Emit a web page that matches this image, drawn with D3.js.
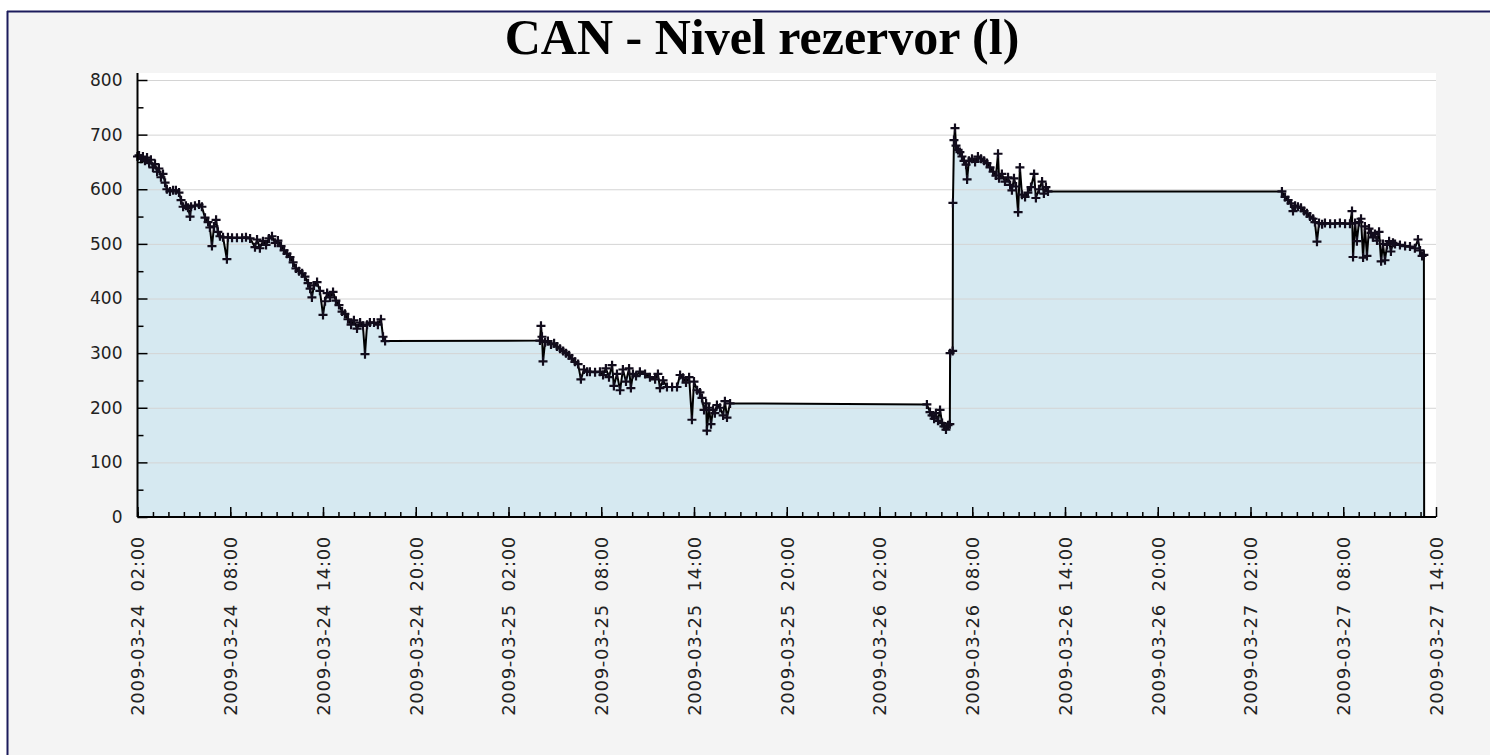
<!doctype html>
<html lang="en">
<head>
<meta charset="utf-8">
<script src="https://d3js.org/d3.v7.min.js"></script>
<style>
  body { margin: 0; background: #fff; }
  .tick text { white-space: pre; }
</style>
</head>
<body>
<div id="chart"></div>
<script>
var chartTitle = "CAN - Nivel rezervor (l)";

// reservoir readings (litres)
var times = [
  // 2009-03-24
  "2009-03-24 02:00","2009-03-24 02:06","2009-03-24 02:14","2009-03-24 02:21","2009-03-24 02:29","2009-03-24 02:37",
  "2009-03-24 02:45","2009-03-24 02:52","2009-03-24 03:00","2009-03-24 03:08","2009-03-24 03:16","2009-03-24 03:23",
  "2009-03-24 03:31","2009-03-24 03:39","2009-03-24 03:47","2009-03-24 03:54","2009-03-24 04:06","2009-03-24 04:18",
  "2009-03-24 04:29","2009-03-24 04:41","2009-03-24 04:49","2009-03-24 04:57","2009-03-24 05:08","2009-03-24 05:16",
  "2009-03-24 05:24","2009-03-24 05:28","2009-03-24 05:43","2009-03-24 05:59","2009-03-24 06:10","2009-03-24 06:22",
  "2009-03-24 06:34","2009-03-24 06:41","2009-03-24 06:49","2009-03-24 06:57","2009-03-24 07:05","2009-03-24 07:12",
  "2009-03-24 07:20","2009-03-24 07:32","2009-03-24 07:47","2009-03-24 07:51","2009-03-24 08:07","2009-03-24 08:26",
  "2009-03-24 08:46","2009-03-24 09:01","2009-03-24 09:17","2009-03-24 09:36","2009-03-24 09:44","2009-03-24 09:55",
  "2009-03-24 10:07","2009-03-24 10:19","2009-03-24 10:30","2009-03-24 10:42","2009-03-24 10:54","2009-03-24 11:05",
  "2009-03-24 11:17","2009-03-24 11:29","2009-03-24 11:40","2009-03-24 11:52","2009-03-24 12:04","2009-03-24 12:15",
  "2009-03-24 12:27","2009-03-24 12:39","2009-03-24 12:50","2009-03-24 13:02","2009-03-24 13:10","2009-03-24 13:17",
  "2009-03-24 13:25","2009-03-24 13:37","2009-03-24 13:48","2009-03-24 14:00","2009-03-24 14:08","2009-03-24 14:16",
  "2009-03-24 14:27","2009-03-24 14:39","2009-03-24 14:50","2009-03-24 15:02","2009-03-24 15:14","2009-03-24 15:25",
  "2009-03-24 15:37","2009-03-24 15:49","2009-03-24 16:00","2009-03-24 16:12","2009-03-24 16:24","2009-03-24 16:35",
  "2009-03-24 16:43","2009-03-24 16:51","2009-03-24 17:02","2009-03-24 17:18","2009-03-24 17:33","2009-03-24 17:45",
  "2009-03-24 17:53","2009-03-24 18:01",
  // 2009-03-25
  "2009-03-25 04:02","2009-03-25 04:06","2009-03-25 04:10","2009-03-25 04:14","2009-03-25 04:22","2009-03-25 04:33",
  "2009-03-25 04:45","2009-03-25 04:57","2009-03-25 05:08","2009-03-25 05:20","2009-03-25 05:32","2009-03-25 05:43",
  "2009-03-25 05:55","2009-03-25 06:06","2009-03-25 06:18","2009-03-25 06:30","2009-03-25 06:41","2009-03-25 06:53",
  "2009-03-25 07:05","2009-03-25 07:16","2009-03-25 07:36","2009-03-25 07:55","2009-03-25 08:07","2009-03-25 08:18",
  "2009-03-25 08:30","2009-03-25 08:42","2009-03-25 08:49","2009-03-25 09:01","2009-03-25 09:13","2009-03-25 09:24",
  "2009-03-25 09:36","2009-03-25 09:48","2009-03-25 09:55","2009-03-25 10:03","2009-03-25 10:15","2009-03-25 10:30",
  "2009-03-25 10:50","2009-03-25 11:09","2009-03-25 11:29","2009-03-25 11:40","2009-03-25 11:48","2009-03-25 12:00",
  "2009-03-25 12:15","2009-03-25 12:35","2009-03-25 12:54","2009-03-25 13:06","2009-03-25 13:17","2009-03-25 13:29",
  "2009-03-25 13:41","2009-03-25 13:52","2009-03-25 14:00","2009-03-25 14:12","2009-03-25 14:23","2009-03-25 14:31",
  "2009-03-25 14:39","2009-03-25 14:47","2009-03-25 14:50","2009-03-25 14:58","2009-03-25 15:06","2009-03-25 15:14",
  "2009-03-25 15:21","2009-03-25 15:29","2009-03-25 15:41","2009-03-25 15:53","2009-03-25 16:00","2009-03-25 16:08",
  "2009-03-25 16:20",
  // 2009-03-26
  "2009-03-26 05:04","2009-03-26 05:16","2009-03-26 05:24","2009-03-26 05:32","2009-03-26 05:39","2009-03-26 05:47",
  "2009-03-26 05:55","2009-03-26 06:03","2009-03-26 06:10","2009-03-26 06:18","2009-03-26 06:26","2009-03-26 06:33",
  "2009-03-26 06:34","2009-03-26 06:44","2009-03-26 06:45","2009-03-26 06:49","2009-03-26 06:53","2009-03-26 06:57",
  "2009-03-26 07:05","2009-03-26 07:12",
  "2009-03-26 07:20","2009-03-26 07:28","2009-03-26 07:36","2009-03-26 07:40","2009-03-26 07:47","2009-03-26 07:59",
  "2009-03-26 08:11","2009-03-26 08:22","2009-03-26 08:34","2009-03-26 08:46","2009-03-26 08:57","2009-03-26 09:09",
  "2009-03-26 09:21","2009-03-26 09:32","2009-03-26 09:40","2009-03-26 09:44","2009-03-26 09:55","2009-03-26 10:07",
  "2009-03-26 10:19","2009-03-26 10:27","2009-03-26 10:34","2009-03-26 10:42","2009-03-26 10:50","2009-03-26 10:58",
  "2009-03-26 11:05","2009-03-26 11:13","2009-03-26 11:25","2009-03-26 11:36","2009-03-26 11:48","2009-03-26 12:00",
  "2009-03-26 12:07","2009-03-26 12:19","2009-03-26 12:31","2009-03-26 12:38","2009-03-26 12:46","2009-03-26 12:54",
  // 2009-03-27
  "2009-03-27 04:02","2009-03-27 04:14","2009-03-27 04:26","2009-03-27 04:37","2009-03-27 04:45","2009-03-27 04:53",
  "2009-03-27 05:04","2009-03-27 05:16","2009-03-27 05:28","2009-03-27 05:39","2009-03-27 05:51","2009-03-27 06:03",
  "2009-03-27 06:10","2009-03-27 06:18","2009-03-27 06:26","2009-03-27 06:38","2009-03-27 06:49","2009-03-27 07:09",
  "2009-03-27 07:28","2009-03-27 07:47","2009-03-27 08:07","2009-03-27 08:26","2009-03-27 08:34","2009-03-27 08:38",
  "2009-03-27 08:46","2009-03-27 08:53","2009-03-27 09:01","2009-03-27 09:09","2009-03-27 09:17","2009-03-27 09:24",
  "2009-03-27 09:32","2009-03-27 09:40","2009-03-27 09:48","2009-03-27 09:55","2009-03-27 10:03","2009-03-27 10:11",
  "2009-03-27 10:19","2009-03-27 10:27","2009-03-27 10:34","2009-03-27 10:42","2009-03-27 10:50","2009-03-27 10:58",
  "2009-03-27 11:05","2009-03-27 11:13","2009-03-27 11:21","2009-03-27 11:40","2009-03-27 12:00","2009-03-27 12:19",
  "2009-03-27 12:38","2009-03-27 12:50","2009-03-27 12:58","2009-03-27 13:06","2009-03-27 13:13","2009-03-27 13:14"
];

var levels = [
  // 2009-03-24
  660,662,656,660,652,658, 648,654,640,646,632,638, 622,628,612,600,596,598, 598,594,580,568,570,566,
  550,568,570,572,568,548, 540,530,496,532,544,522, 514,512,472,512,511,511, 511,512,510,494,508,492,
  505,498,510,514,502,506, 496,488,482,476,466,455, 450,446,440,428,418,402, 424,430,414,370,395,410,
  402,412,396,388,376,372, 362,352,360,345,356,350, 298,352,356,356,352,362, 330,322,
  // 2009-03-25
  323,350,330,285,320,322, 316,318,312,308,304,300, 296,290,284,280,252,270, 266,266,265,266,260,272,
  256,278,240,262,232,270, 248,272,236,262,258,266, 262,256,252,262,236,250, 238,238,238,260,255,246,
  256,178,248,232,228,218, 196,208,158,200,170,196, 190,205,200,186,212,182, 208,
  // 2009-03-26
  206,192,186,180,190,176, 196,172,166,160,168,170, 300,304,575,690,712,680, 672,668,
  660,652,645,618,652,656, 650,660,656,652,648,640, 632,625,665,620,628,614, 622,608,598,620,605,558,
  640,590,586,594,604,628, 584,600,614,592,604,596,
  // 2009-03-27
  596,586,580,574,560,570, 568,566,560,556,550,546, 540,504,538,536,538,537, 537,538,537,537,560,476,
  538,505,540,546,475,532, 478,528,520,512,518,506, 522,468,500,470,498,505, 486,502,500,498,496,495,
  492,508,488,478,480,0
];

var xTickLabels = [
  "2009-03-24 02:00","2009-03-24 08:00","2009-03-24 14:00","2009-03-24 20:00",
  "2009-03-25 02:00","2009-03-25 08:00","2009-03-25 14:00","2009-03-25 20:00",
  "2009-03-26 02:00","2009-03-26 08:00","2009-03-26 14:00","2009-03-26 20:00",
  "2009-03-27 02:00","2009-03-27 08:00","2009-03-27 14:00"
];
var yTicks = [0, 100, 200, 300, 400, 500, 600, 700, 800];
var yMinorTicks = [50, 150, 250, 350, 450, 550, 650, 750];

var parse = d3.utcParse("%Y-%m-%d %H:%M");
var fmt = d3.utcFormat("%Y-%m-%d  %H:%M");

var data = times.map(function (t, i) { return { date: parse(t), value: levels[i] }; });
var tickDates = xTickLabels.map(parse);

var W = 1490, H = 755;
var plot = { left: 137.5, top: 73, right: 1436, bottom: 517 };

var svg = d3.select("#chart").append("svg")
    .attr("width", W)
    .attr("height", H);

// page background and frame
svg.append("rect").attr("width", W).attr("height", H).attr("fill", "#fff");
svg.append("rect").attr("x", 7).attr("y", 11).attr("width", W - 7).attr("height", H - 11).attr("fill", "#f4f4f4");
svg.append("line").attr("x1", 7.5).attr("x2", 7.5).attr("y1", 11).attr("y2", H)
    .attr("stroke", "#1c1c5c").attr("stroke-width", 2);
svg.append("line").attr("x1", 7).attr("x2", W).attr("y1", 11.5).attr("y2", 11.5)
    .attr("stroke", "#1c1c5c").attr("stroke-width", 2);

// title
svg.append("text")
    .attr("x", 762)
    .attr("y", 54)
    .attr("text-anchor", "middle")
    .style("font-family", "'Liberation Serif', 'Times New Roman', serif")
    .style("font-weight", "bold")
    .style("font-size", "50px")
    .attr("fill", "#000")
    .text(chartTitle);

var x = d3.scaleUtc()
    .domain([tickDates[0], tickDates[tickDates.length - 1]])
    .range([plot.left, plot.right]);

var y = d3.scaleLinear()
    .domain([0, 800])
    .range([plot.bottom, 80]);

// plot area
svg.append("rect")
    .attr("x", plot.left).attr("y", plot.top)
    .attr("width", plot.right - plot.left).attr("height", plot.bottom - plot.top)
    .attr("fill", "#fff");

// area under the curve
svg.append("path")
    .datum(data)
    .attr("fill", "#d6e9f1")
    .attr("d", d3.area()
        .x(function (d) { return x(d.date); })
        .y0(y(0))
        .y1(function (d) { return y(d.value); }));

// grid lines
svg.append("g")
    .selectAll("line")
    .data(yTicks.filter(function (v) { return v > 0; }))
    .join("line")
    .attr("x1", plot.left + 10).attr("x2", plot.right)
    .attr("y1", function (d) { return y(d) + 0.5; })
    .attr("y2", function (d) { return y(d) + 0.5; })
    .attr("stroke", "#d4d4d4")
    .attr("stroke-width", 1);

// the line
svg.append("path")
    .datum(data)
    .attr("fill", "none")
    .attr("stroke", "#000")
    .attr("stroke-width", 2)
    .attr("d", d3.line()
        .x(function (d) { return x(d.date); })
        .y(function (d) { return y(d.value); }));

// + markers
svg.append("g")
    .selectAll("path")
    .data(data.filter(function (d) { return d.value > 0; }))
    .join("path")
    .attr("transform", function (d) { return "translate(" + x(d.date) + "," + y(d.value) + ")"; })
    .attr("d", "M-4.5,0H4.5M0,-4.5V4.5")
    .attr("stroke", "#120c1c")
    .attr("stroke-width", 2.2)
    .attr("fill", "none");

// y axis
var yAxis = svg.append("g")
    .attr("transform", "translate(" + plot.left + ",0)")
    .call(d3.axisLeft(y).tickValues(yTicks).tickSizeInner(-10).tickSizeOuter(0).tickPadding(15));
yAxis.select(".domain").remove();
yAxis.selectAll(".tick line").attr("stroke", "#000").attr("stroke-width", 1.5);
yAxis.selectAll(".tick text")
    .style("font-family", "'DejaVu Sans', Verdana, sans-serif")
    .style("font-size", "17px")
    .attr("fill", "#222");

svg.append("g")
    .attr("transform", "translate(" + plot.left + ",0)")
    .call(d3.axisLeft(y).tickValues(yMinorTicks).tickSize(-6).tickFormat(""))
    .call(function (g) { g.select(".domain").remove(); })
    .selectAll(".tick line").attr("stroke", "#000").attr("stroke-width", 1.5);

// x axis
var xAxis = svg.append("g")
    .attr("transform", "translate(0," + plot.bottom + ")")
    .call(d3.axisBottom(x).tickValues(tickDates).tickSizeInner(-10).tickSizeOuter(0).tickFormat(fmt));
xAxis.select(".domain").remove();
xAxis.selectAll(".tick line").attr("stroke", "#000").attr("stroke-width", 1.5);
xAxis.selectAll(".tick text")
    .attr("transform", "rotate(-90)")
    .attr("text-anchor", "end")
    .attr("x", -19)
    .attr("y", 0)
    .attr("dy", "0.36em")
    .style("font-family", "'DejaVu Sans', Verdana, sans-serif")
    .style("font-size", "18px")
    .style("letter-spacing", "0.7px")
    .attr("fill", "#222");

svg.append("g")
    .attr("transform", "translate(0," + plot.bottom + ")")
    .call(d3.axisBottom(x).tickValues(d3.utcHour.range(tickDates[0], tickDates[tickDates.length - 1]))
        .tickSize(-5).tickFormat(""))
    .call(function (g) { g.select(".domain").remove(); })
    .selectAll(".tick line").attr("stroke", "#000").attr("stroke-width", 1.5);

// axis lines
svg.append("line")
    .attr("x1", plot.left).attr("x2", plot.left)
    .attr("y1", plot.top).attr("y2", plot.bottom)
    .attr("stroke", "#000").attr("stroke-width", 2);
svg.append("line")
    .attr("x1", plot.left).attr("x2", plot.right)
    .attr("y1", plot.bottom).attr("y2", plot.bottom)
    .attr("stroke", "#000").attr("stroke-width", 2);
</script>
</body>
</html>
